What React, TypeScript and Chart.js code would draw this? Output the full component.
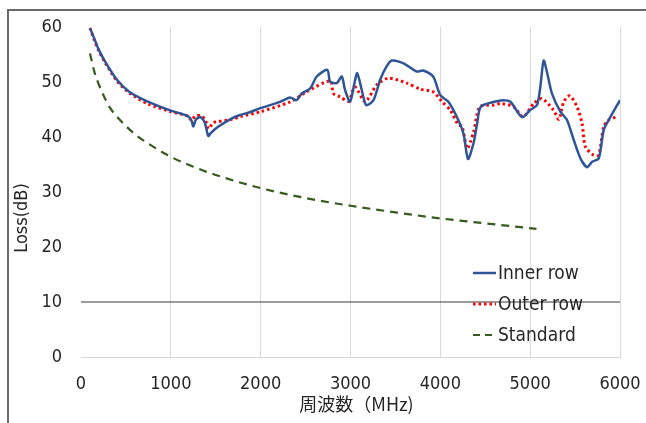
import React, { useEffect, useRef } from "react";
import { Chart, registerables } from "chart.js";

Chart.register(...registerables);

// Frequency axis ticks (MHz) and loss axis ticks (dB)
const freqTicks = [0, 1000, 2000, 3000, 4000, 5000, 6000];
const lossTicks = [0, 10, 20, 30, 40, 50, 60];

// Inner row measurement
const innerFreq = [
  100, 140, 200, 280, 400, 540, 750, 1000, 1190, 1230, 1250, 1280, 1330, 1380, 1416, 1450,
  1530, 1680, 1770, 1860, 1990, 2215, 2327, 2400, 2457, 2550, 2624, 2742, 2773, 2847, 2903,
  2940, 2996, 3040, 3075, 3126, 3174, 3256, 3330, 3400, 3460, 3590, 3739, 3810, 3920, 4000,
  4090, 4200, 4260, 4308, 4370, 4410, 4450, 4600, 4700, 4780, 4910, 5000, 5076, 5113, 5150,
  5190, 5243, 5336, 5410, 5484, 5560, 5633, 5690, 5763, 5819, 5875, 6000,
];
const innerLoss = [
  59.8, 58.2, 55.8, 53.4, 50.4, 48.2, 46.4, 44.8, 43.8, 43.0, 41.9, 43.2, 43.6, 42.5, 40.2, 40.8,
  41.9, 43.4, 44.0, 44.4, 45.2, 46.4, 47.2, 46.7, 47.9, 48.8, 51.0, 52.2, 50.1, 49.8, 51.0,
  48.5, 46.4, 49.5, 51.6, 48.5, 45.8, 46.7, 50.4, 52.8, 53.9, 53.4, 51.9, 52.1, 51.0, 47.6,
  46.4, 43.1, 40.5, 36.0, 38.9, 42.5, 45.5, 46.4, 46.7, 46.4, 43.6, 44.9, 45.8, 49.1, 53.9,
  51.6, 47.9, 44.6, 43.1, 39.5, 36.1, 34.5, 35.5, 36.1, 41.3, 43.1, 46.7,
];

// Outer row measurement
const outerFreq = [
  100, 140, 200, 280, 400, 540, 750, 1000, 1190, 1230, 1270, 1330, 1380, 1420, 1470, 1530,
  1680, 1770, 2000, 2330, 2510, 2773, 2810, 2884, 2977, 3051, 3163, 3293, 3423, 3628, 3776,
  3920, 4020, 4110, 4200, 4240, 4300, 4370, 4440, 4600, 4670, 4815, 4920, 5040, 5130, 5260,
  5320, 5373, 5440, 5522, 5577, 5615, 5707, 5763, 5819, 5875, 5950,
];
const outerLoss = [
  59.8, 58.0, 55.6, 53.2, 50.2, 48.0, 46.0, 44.6, 43.8, 43.0, 43.8, 43.9, 43.2, 41.5, 42.6, 42.8,
  43.2, 43.7, 44.6, 46.4, 48.2, 50.2, 47.9, 47.3, 46.5, 49.1, 46.4, 49.5, 50.7, 49.8, 48.7,
  48.2, 46.4, 44.9, 42.2, 42.0, 37.9, 40.9, 45.5, 45.8, 46.1, 45.5, 43.7, 46.1, 47.0, 44.9,
  43.2, 46.4, 47.5, 45.5, 42.5, 38.2, 36.7, 36.7, 41.9, 43.1, 43.6,
];

// Standard requirement curve
const standardFreq = [100, 150, 200, 250, 320, 400, 500, 600, 750, 1000, 1250, 1500, 2000, 2500, 3000, 3500, 4000, 4500, 5070];
const standardLoss = [55.2, 51.8, 49.5, 47.6, 45.4, 43.7, 42.0, 40.5, 38.8, 36.4, 34.6, 33.1, 30.7, 28.9, 27.5, 26.3, 25.2, 24.3, 23.3];

// Reference level line
const refFreq = [0, 6000];
const refLoss = [10, 10];

const seriesNames = ["Inner row", "Outer row", "Standard"];
const xTitle = "周波数（MHz)";
const yTitle = "Loss(dB)";

const FONT = "'DejaVu Sans Condensed', 'DejaVu Sans', sans-serif";
const TEXT = "#262626";
const BLUE = "#2f5597";
const RED = "#ff0000";
const GREEN = "#375a1f";

const pts = (xs: number[], ys: number[]) => xs.map((x, i) => ({ x, y: ys[i] }));

const decorations = {
  id: "decorations",
  beforeDraw(chart: any) {
    const ctx = chart.ctx;
    ctx.save();
    ctx.fillStyle = "#ffffff";
    ctx.fillRect(0, 0, chart.width, chart.height);
    ctx.strokeStyle = "#6a6a6a";
    ctx.lineWidth = 2;
    ctx.beginPath();
    ctx.moveTo(8, chart.height);
    ctx.lineTo(8, 10);
    ctx.lineTo(chart.width, 10);
    ctx.stroke();
    ctx.restore();
  },
  afterDraw(chart: any) {
    const ctx = chart.ctx;
    const area = chart.chartArea;
    ctx.save();
    ctx.fillStyle = TEXT;
    // Axis titles
    ctx.textAlign = "center";
    ctx.textBaseline = "middle";
    ctx.font = `18px 'Noto Sans CJK JP', ${FONT}`;
    ctx.fillText(xTitle, (area.left + area.right) / 2 + 6, 404);
    ctx.save();
    ctx.translate(22, 218);
    ctx.rotate(-Math.PI / 2);
    ctx.font = `18px ${FONT}`;
    ctx.fillText(yTitle, 0, 0);
    ctx.restore();

    // Legend inside the plot, lower right
    const styles = [
      { color: BLUE, dash: [] as number[], width: 2.5 },
      { color: RED, dash: [2.5, 3], width: 3 },
      { color: GREEN, dash: [7, 5], width: 2 },
    ];
    const rows = [273, 304, 335];
    ctx.textAlign = "left";
    ctx.font = `19px ${FONT}`;
    seriesNames.forEach((name, i) => {
      const s = styles[i];
      ctx.save();
      ctx.strokeStyle = s.color;
      ctx.lineWidth = s.width;
      ctx.setLineDash(s.dash);
      ctx.beginPath();
      ctx.moveTo(473, rows[i]);
      ctx.lineTo(496, rows[i]);
      ctx.stroke();
      ctx.restore();
      ctx.fillStyle = TEXT;
      ctx.fillText(name, 498, rows[i] + 1);
    });
    ctx.restore();
  },
};

export default function App() {
  const ref = useRef<HTMLCanvasElement | null>(null);

  useEffect(() => {
    if (!ref.current) return;
    const chart = new Chart(ref.current, {
      type: "line",
      data: {
        datasets: [
          {
            label: "level",
            data: pts(refFreq, refLoss),
            borderColor: "#3a3a3a",
            borderWidth: 1.2,
            pointRadius: 0,
          },
          {
            label: seriesNames[2],
            data: pts(standardFreq, standardLoss),
            borderColor: GREEN,
            borderWidth: 2.2,
            borderDash: [8, 6],
            pointRadius: 0,
            cubicInterpolationMode: "monotone",
          },
          {
            label: seriesNames[0],
            data: pts(innerFreq, innerLoss),
            borderColor: BLUE,
            borderWidth: 2.5,
            pointRadius: 0,
            tension: 0.25,
          },
          {
            label: seriesNames[1],
            data: pts(outerFreq, outerLoss),
            borderColor: RED,
            borderWidth: 3,
            borderDash: [2.5, 3],
            pointRadius: 0,
            tension: 0.25,
          },
        ],
      },
      options: {
        animation: false,
        responsive: false,
        maintainAspectRatio: false,
        layout: { padding: { left: 0, right: 26, top: 27, bottom: 0 } },
        plugins: {
          legend: { display: false },
          tooltip: { enabled: false },
        },
        scales: {
          x: {
            type: "linear",
            min: freqTicks[0],
            max: freqTicks[freqTicks.length - 1],
            afterFit: (s: any) => {
              s.height = 66;
              s.paddingLeft = 0;
              s.paddingRight = 0;
            },
            afterBuildTicks: (s: any) => {
              s.ticks = freqTicks.map((v) => ({ value: v }));
            },
            grid: {
              drawTicks: false,
              color: (c: any) => (c.tick && c.tick.value === 0 ? "rgba(0,0,0,0)" : "#d9d9d9"),
              lineWidth: 1,
            },
            border: { display: true, color: "#d9d9d9", width: 1 },
            ticks: {
              padding: 17,
              color: TEXT,
              font: { family: FONT, size: 18 },
              maxRotation: 0,
              callback: (v: any) => String(v),
            },
          },
          y: {
            type: "linear",
            min: lossTicks[0],
            max: lossTicks[lossTicks.length - 1],
            afterFit: (s: any) => {
              s.width = 81;
              s.paddingTop = 0;
              s.paddingBottom = 0;
            },
            afterBuildTicks: (s: any) => {
              s.ticks = lossTicks.map((v) => ({ value: v }));
            },
            grid: { display: false, drawTicks: false },
            border: { display: false },
            ticks: {
              padding: 19,
              color: TEXT,
              font: { family: FONT, size: 18 },
              callback: (v: any) => String(v),
            },
          },
        },
      },
      plugins: [decorations],
    });
    return () => chart.destroy();
  }, []);

  return (
    <div style={{ position: "fixed", left: 0, top: 0, width: 646, height: 423, background: "#fff" }}>
      <canvas ref={ref} width={646} height={423} style={{ display: "block", width: 646, height: 423 }} />
    </div>
  );
}
